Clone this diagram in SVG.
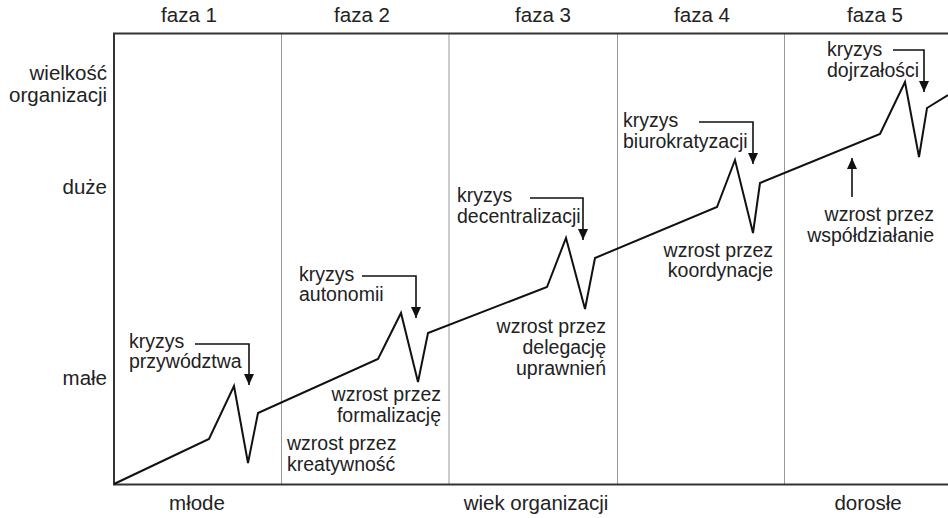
<svg xmlns="http://www.w3.org/2000/svg" width="948" height="518" viewBox="0 0 948 518">
<style>
text{font-family:"Liberation Sans",Arial,sans-serif;fill:#222}
.ax{font-size:20.5px}
.lb{font-size:19.5px}
.mid{text-anchor:middle}
.end{text-anchor:end}
.axis{stroke:#333;stroke-width:2;fill:none}
.div{stroke:#999;stroke-width:1;fill:none}
.curve{stroke:#111;stroke-width:2;fill:none;stroke-linejoin:miter}
.arr{stroke:#111;stroke-width:1.6;fill:none}
</style>
<defs>
<marker id="ah" markerUnits="userSpaceOnUse" markerWidth="12" markerHeight="12" viewBox="0 0 12 12" refX="11" refY="6" orient="auto">
<path d="M0,1 L11,6 L0,11 Z" fill="#111"/>
</marker>
</defs>
<rect width="948" height="518" fill="#fff"/>
<g id="frame">
<path class="div" d="M281.5,34 V484 M449,34 V484 M617.5,34 V484 M784.5,34 V484"/>
<path class="axis" d="M948,33.5 H114 V484.5 H948"/>
</g>
<g id="phase-labels">
<text class="ax mid" x="189" y="22">faza 1</text>
<text class="ax mid" x="362" y="22">faza 2</text>
<text class="ax mid" x="543" y="22">faza 3</text>
<text class="ax mid" x="702" y="22">faza 4</text>
<text class="ax mid" x="875" y="22">faza 5</text>
</g>
<g id="y-axis-labels">
<text class="ax end" x="107" y="80">wielkość</text>
<text class="ax end" x="107" y="102">organizacji</text>
<text class="ax end" x="107" y="194">duże</text>
<text class="ax end" x="107" y="385">małe</text>
</g>
<g id="x-axis-labels">
<text class="ax mid" x="197" y="510">młode</text>
<text class="ax mid" x="536" y="510">wiek organizacji</text>
<text class="ax mid" x="868" y="510">dorosłe</text>
</g>
<g id="growth-curve">
<path class="curve" d="M114,484 L209,439 L234,386 L248,463 L258,413 L378,359 L401,313 L418,382 L428,333 L547,287 L566,238 L585,309 L595,258 L717,207 L735,160 L753,233 L760,183 L880,134 L905,82 L919,157 L927,108 L948,95"/>
</g>
<g id="connectors">
<path class="arr" d="M195,344 H249 V385" marker-end="url(#ah)"/>
<path class="arr" d="M362,276 H416 V318" marker-end="url(#ah)"/>
<path class="arr" d="M530,198 H583 V240" marker-end="url(#ah)"/>
<path class="arr" d="M699,122 H753 V164" marker-end="url(#ah)"/>
<path class="arr" d="M893,50 H924 V92" marker-end="url(#ah)"/>
<path class="arr" d="M852,197 V158" marker-end="url(#ah)"/>
</g>
<g id="crisis-1">
<text class="lb" x="129" y="348">kryzys</text>
<text class="lb" x="129" y="368">przywództwa</text>
</g>
<g id="growth-1">
<text class="lb" x="287" y="450">wzrost przez</text>
<text class="lb" x="287" y="471">kreatywność</text>
</g>
<g id="crisis-2">
<text class="lb" x="299" y="281">kryzys</text>
<text class="lb" x="299" y="301">autonomii</text>
</g>
<g id="growth-2">
<text class="lb end" x="441" y="401">wzrost przez</text>
<text class="lb end" x="441" y="422">formalizację</text>
</g>
<g id="crisis-3">
<text class="lb" x="457" y="202">kryzys</text>
<text class="lb" x="457" y="223">decentralizacji</text>
</g>
<g id="growth-3">
<text class="lb end" x="606" y="333">wzrost przez</text>
<text class="lb end" x="606" y="354">delegację</text>
<text class="lb end" x="606" y="375">uprawnień</text>
</g>
<g id="crisis-4">
<text class="lb" x="623" y="127">kryzys</text>
<text class="lb" x="623" y="148">biurokratyzacji</text>
</g>
<g id="growth-4">
<text class="lb end" x="773" y="257">wzrost przez</text>
<text class="lb end" x="773" y="277">koordynacje</text>
</g>
<g id="crisis-5">
<text class="lb" x="827" y="56">kryzys</text>
<text class="lb" x="827" y="77">dojrzałości</text>
</g>
<g id="growth-5">
<text class="lb end" x="934" y="221">wzrost przez</text>
<text class="lb end" x="934" y="242">współdziałanie</text>
</g>
</svg>
